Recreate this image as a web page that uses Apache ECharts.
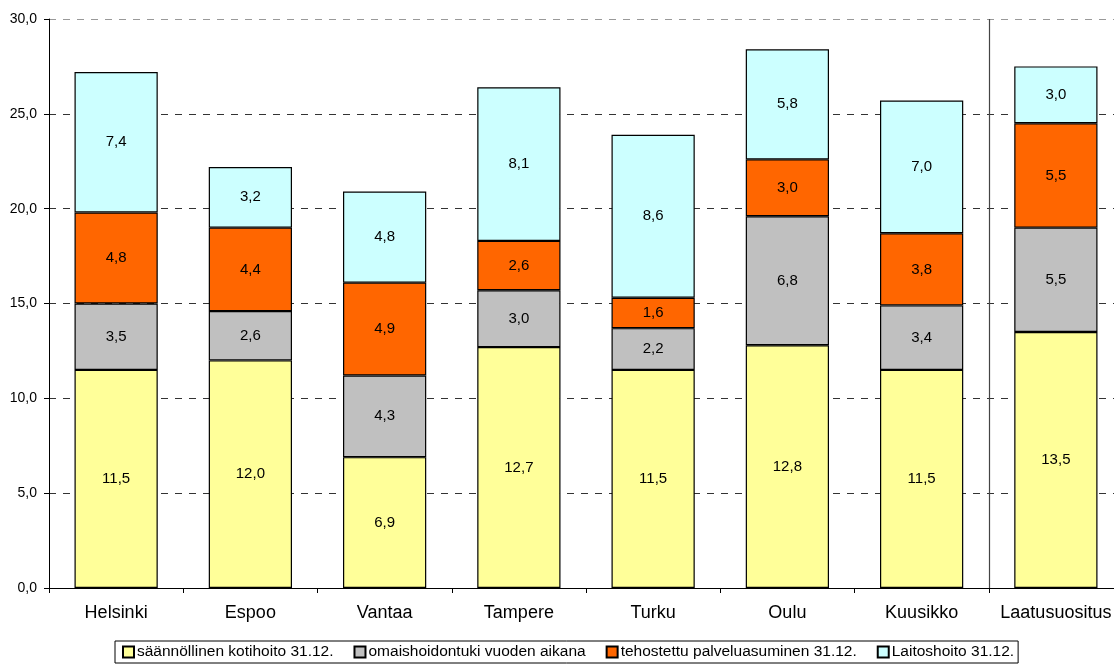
<!DOCTYPE html>
<html><head><meta charset="utf-8">
<script src="https://cdn.jsdelivr.net/npm/echarts@6/dist/echarts.min.js"></script>
<style>html,body{margin:0;padding:0;background:#fff;overflow:hidden}#c{width:1124px;height:664px}</style>
</head><body><div id="c"></div>
<script>
var categories = ['Helsinki','Espoo','Vantaa','Tampere','Turku','Oulu','Kuusikko','Laatusuositus'];
var kotihoito = [11.5, 12.0, 6.9, 12.7, 11.5, 12.8, 11.5, 13.5];
var omaishoito = [3.5, 2.6, 4.3, 3.0, 2.2, 6.8, 3.4, 5.5];
var tehostettu = [4.8, 4.4, 4.9, 2.6, 1.6, 3.0, 3.8, 5.5];
var laitoshoito = [7.4, 3.2, 4.8, 8.1, 8.6, 5.8, 7.0, 3.0];
var seriesNames = ['säännöllinen kotihoito 31.12.','omaishoidontuki vuoden aikana','tehostettu palveluasuminen 31.12.','Laitoshoito 31.12.'];
var colors = ['#FFFF99','#C0C0C0','#FF6600','#CCFFFF'];
var datasets = [kotihoito, omaishoito, tehostettu, laitoshoito];

var font = 'Liberation Sans, Arial, sans-serif';
var fmt = function(v){ return Number(v).toFixed(1).replace('.', ','); };

var chart = echarts.init(document.getElementById('c'));
var series = datasets.map(function(d, i){
  return {
    name: seriesNames[i], type: 'bar', stack: 'total', data: d,
    barWidth: '62%',
    itemStyle: {color: colors[i], borderColor: '#000', borderWidth: 1.2},
    label: {show: true, position: 'inside', color: '#000', fontSize: 15, fontFamily: font,
            formatter: function(p){ return fmt(p.value); }}
  };
});
series.push({
  type: 'line', xAxisIndex: 1, data: [], silent: true,
  markLine: {symbol: 'none', silent: true, label: {show: false},
    lineStyle: {color: '#444', width: 1.2, type: 'solid'},
    data: [{xAxis: 7}]}
});
chart.setOption({
  animation: false,
  textStyle: {fontFamily: font},
  grid: {left: 49, top: 19, width: 1074, bottom: 76, containLabel: false},
  legend: {
    bottom: 1, left: 115,
    data: seriesNames,
    icon: 'rect', itemWidth: 11, itemHeight: 11, itemGap: 20,
    borderColor: '#000', borderWidth: 1, padding: [3, 4, 3, 7],
    textStyle: {fontSize: 15.5, color: '#000', fontFamily: font, padding: [0,0,0,-2]}
  },
  xAxis: [{
    type: 'category', data: categories,
    axisLine: {lineStyle: {color: '#000', width: 1}},
    axisTick: {show: true, interval: 0, length: 5, lineStyle: {color: '#000'}},
    axisLabel: {interval: 0, fontSize: 18, color: '#000', margin: 16, fontFamily: font}
  }, {
    type: 'value', min: 0, max: 8, show: false
  }],
  yAxis: {
    type: 'value', min: 0, max: 30, interval: 5,
    axisLine: {show: true, lineStyle: {color: '#000'}},
    axisTick: {show: true, length: 5, lineStyle: {color: '#000'}},
    axisLabel: {fontSize: 14, color: '#000', margin: 12, formatter: fmt, fontFamily: font},
    splitLine: {show: true, lineStyle: {color: ['#333','#333','#333','#333','#333','#333','#999'], type: [7, 7], width: 1}}
  },
  series: series
});
</script></body></html>
